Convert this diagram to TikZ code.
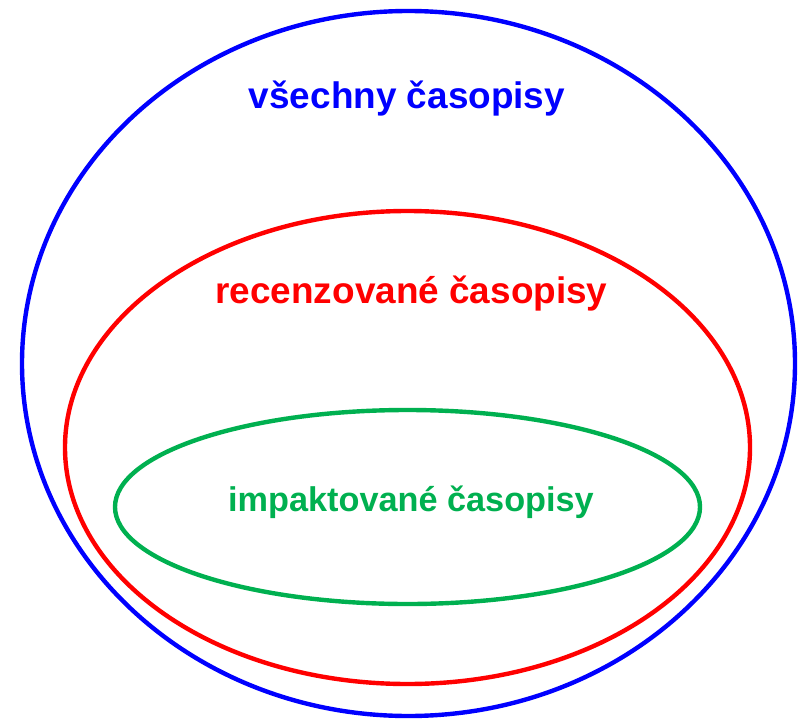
\documentclass[tikz,border=0pt]{standalone}
\usepackage{fontspec}
\setmainfont{Liberation Sans}
\definecolor{cblue}{RGB}{0,0,255}
\definecolor{cred}{RGB}{255,0,0}
\definecolor{cgreen}{RGB}{0,176,80}
\begin{document}
\begin{tikzpicture}[x=0.75pt,y=-0.75pt,
  setline/.style={line width=3.3pt},
  label/.style={anchor=base,inner sep=0pt,font=\bfseries\fontsize{27.7pt}{30pt}\selectfont}]
\useasboundingbox (0,0) rectangle (798,720);
\draw[setline,cblue] (408.5,363.5) ellipse [x radius=386.5, y radius=352.5];
\draw[setline,cred] (407.5,447.5) ellipse [x radius=342.5, y radius=236.5];
\draw[setline,cgreen] (407.5,507) ellipse [x radius=292.5, y radius=97];
\node[label,text=cblue] (all) at (407,109) {všechny časopisy};
\node[label,text=cred] (rec) at (411.5,303) {recenzované časopisy};
\node[label,text=cgreen,font=\bfseries\fontsize{25.7pt}{28pt}\selectfont] (imp) at (411,511) {impaktované časopisy};
\end{tikzpicture}
\end{document}
